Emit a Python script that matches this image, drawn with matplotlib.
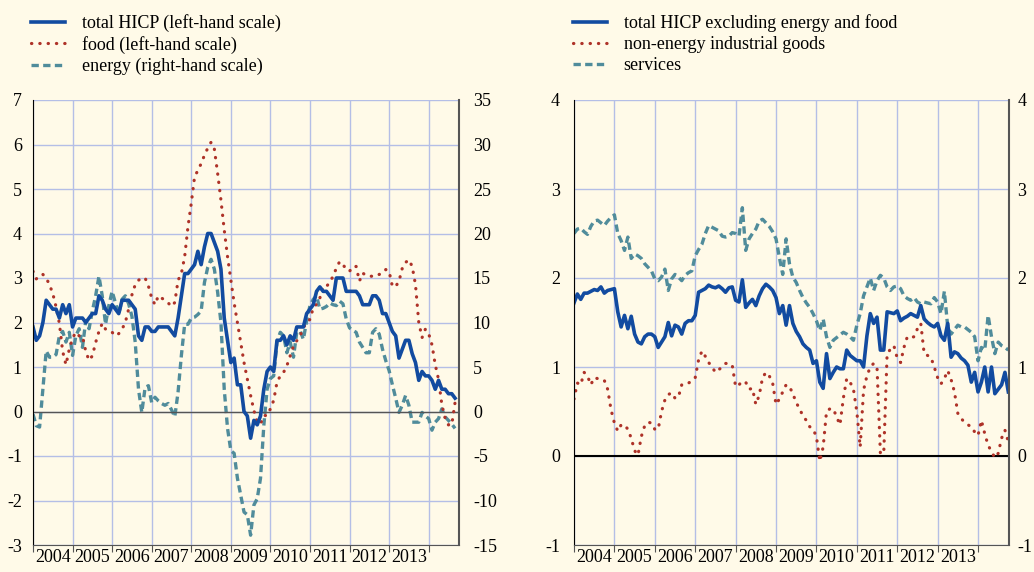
import numpy as np
import matplotlib
matplotlib.use("Agg")
import matplotlib.pyplot as plt

plt.rcParams['font.family'] = ['Liberation Serif', 'DejaVu Serif']
plt.rcParams['axes.unicode_minus'] = False

# monthly annual rates of change, Jan 2004 onwards
total_hicp = [1.9, 1.6, 1.7, 2.0, 2.5, 2.4, 2.3, 2.3, 2.1, 2.4, 2.2, 2.4,
              1.9, 2.1, 2.1, 2.1, 2.0, 2.1, 2.2, 2.2, 2.6, 2.5, 2.3, 2.2,
              2.4, 2.3, 2.2, 2.5, 2.5, 2.5, 2.4, 2.3, 1.7, 1.6, 1.9, 1.9,
              1.8, 1.8, 1.9, 1.9, 1.9, 1.9, 1.8, 1.7, 2.1, 2.6, 3.1, 3.1,
              3.2, 3.3, 3.6, 3.3, 3.7, 4.0, 4.0, 3.8, 3.6, 3.2, 2.1, 1.6,
              1.1, 1.2, 0.6, 0.6, 0.0, -0.1, -0.6, -0.2, -0.3, -0.1, 0.5, 0.9,
              1.0, 0.9, 1.6, 1.6, 1.7, 1.5, 1.7, 1.6, 1.9, 1.9, 1.9, 2.2,
              2.3, 2.4, 2.7, 2.8, 2.7, 2.7, 2.6, 2.5, 3.0, 3.0, 3.0, 2.7,
              2.7, 2.7, 2.7, 2.6, 2.4, 2.4, 2.4, 2.6, 2.6, 2.5, 2.2, 2.2,
              2.0, 1.8, 1.7, 1.2, 1.4, 1.6, 1.6, 1.3, 1.1, 0.7, 0.9, 0.8,
              0.8, 0.7, 0.5, 0.7, 0.5, 0.5, 0.4, 0.4, 0.3]

food = [3.15, 2.98, 3.06, 3.08, 3.00, 2.85, 2.65, 2.35, 1.98, 1.35, 1.05, 1.40,
        1.65, 1.78, 1.70, 1.70, 1.35, 1.15, 1.25, 1.55, 1.80, 1.98, 1.85, 1.80,
        1.78, 1.70, 1.75, 1.85, 2.00, 2.30, 2.62, 2.85, 2.95, 3.00, 3.00, 2.82,
        2.55, 2.40, 2.60, 2.55, 2.50, 2.44, 2.36, 2.45, 2.95, 3.10, 3.48, 4.15,
        4.68, 5.27, 5.42, 5.57, 5.76, 5.92, 6.05, 5.90, 5.35, 4.75, 4.08, 3.48,
        2.96, 2.44, 2.00, 1.55, 1.10, 0.73, 0.36, 0.02, -0.24, -0.28, -0.09, -0.09,
        0.06, 0.25, 0.66, 0.80, 0.88, 1.03, 1.25, 1.47, 1.59, 1.70, 1.88, 2.00,
        2.07, 2.33, 2.41, 2.55, 2.81, 2.81, 2.90, 3.04, 3.22, 3.37, 3.30, 3.20,
        3.15, 3.26, 3.26, 2.93, 3.11, 3.06, 3.04, 3.04, 3.04, 3.08, 3.11, 3.19,
        3.15, 2.81, 2.81, 2.93, 3.22, 3.35, 3.41, 3.26, 2.85, 2.00, 1.66, 1.85,
        1.75, 1.50, 1.05, 0.72, 0.15, -0.15, -0.30, -0.30, 0.20]

energy = [-0.3, -1.6, -1.75, 2.5, 6.8, 6.1, 6.1, 6.4, 8.5, 9.0, 7.8, 8.9,
          6.3, 8.5, 9.3, 7.2, 10.2, 9.3, 11.3, 13.0, 15.2, 13.0, 9.8, 11.9,
          13.5, 12.2, 10.9, 12.6, 13.0, 12.1, 10.7, 7.8, 2.5, -0.1, 2.7, 2.9,
          1.0, 1.6, 1.2, 0.9, 0.7, 0.9, 0.2, -0.6, 2.2, 6.3, 9.8, 9.8,
          10.5, 10.6, 10.9, 11.3, 14.5, 16.2, 17.1, 16.0, 13.4, 10.0, 2.5, -1.9,
          -4.4, -4.7, -7.5, -9.4, -11.3, -11.6, -13.9, -10.5, -9.8, -7.5, -1.6, 2.5,
          3.7, 4.0, 7.8, 8.9, 8.5, 6.6, 7.8, 6.1, 8.9, 9.1, 8.1, 10.2,
          11.9, 12.6, 13.0, 11.5, 11.6, 11.8, 12.2, 12.0, 11.9, 12.4, 12.1, 10.4,
          9.4, 9.1, 8.9, 7.8, 7.2, 6.6, 6.6, 8.9, 9.3, 8.7, 7.0, 5.7,
          4.6, 3.0, 1.5, -0.1, 0.7, 1.8, 0.7, -1.2, -1.2, -1.2, -0.1, -0.5,
          -0.8, -2.1, -1.2, -0.8, 0.3, -0.6, -1.0, -1.4, -1.9]

core = [1.72, 1.82, 1.76, 1.83, 1.83, 1.85, 1.87, 1.86, 1.90, 1.83, 1.86, 1.87,
        1.88, 1.62, 1.45, 1.58, 1.43, 1.57, 1.37, 1.28, 1.26, 1.34, 1.37, 1.37,
        1.34, 1.22, 1.28, 1.34, 1.50, 1.35, 1.47, 1.45, 1.37, 1.49, 1.52, 1.52,
        1.58, 1.84, 1.86, 1.88, 1.92, 1.90, 1.89, 1.91, 1.88, 1.84, 1.89, 1.90,
        1.75, 1.73, 1.98, 1.67, 1.72, 1.76, 1.69, 1.80, 1.88, 1.93, 1.90, 1.86,
        1.78, 1.60, 1.69, 1.47, 1.69, 1.49, 1.40, 1.34, 1.26, 1.22, 1.19, 1.04,
        1.07, 0.83, 0.76, 1.15, 0.87, 0.94, 1.00, 0.98, 0.98, 1.19, 1.13, 1.10,
        1.07, 1.07, 1.00, 1.35, 1.60, 1.49, 1.56, 1.19, 1.19, 1.62, 1.61, 1.60,
        1.63, 1.52, 1.55, 1.57, 1.60, 1.58, 1.56, 1.69, 1.54, 1.50, 1.47, 1.45,
        1.49, 1.35, 1.30, 1.49, 1.11, 1.17, 1.15, 1.10, 1.07, 1.02, 0.83, 0.94,
        0.72, 0.83, 1.00, 0.72, 1.00, 0.70, 0.75, 0.80, 0.94, 0.72]

neig = [0.64, 0.82, 0.80, 0.94, 0.90, 0.80, 0.88, 0.87, 0.86, 0.85, 0.75, 0.52,
        0.37, 0.28, 0.35, 0.35, 0.30, 0.20, 0.06, 0.01, 0.22, 0.34, 0.38, 0.37,
        0.30, 0.30, 0.50, 0.63, 0.69, 0.71, 0.65, 0.66, 0.80, 0.82, 0.82, 0.84,
        0.88, 1.08, 1.18, 1.12, 1.05, 1.00, 0.94, 0.97, 1.00, 1.04, 1.04, 1.02,
        0.78, 0.80, 0.84, 0.83, 0.75, 0.76, 0.58, 0.68, 0.88, 0.94, 0.90, 0.82,
        0.58, 0.64, 0.72, 0.80, 0.78, 0.70, 0.60, 0.53, 0.45, 0.40, 0.33, 0.30,
        0.22, -0.06, 0.10, 0.50, 0.53, 0.53, 0.44, 0.35, 0.65, 0.87, 0.83, 0.75,
        0.50, 0.10, 0.74, 0.90, 1.00, 1.04, 1.00, 0.03, 0.03, 1.15, 1.20, 1.24,
        1.10, 1.05, 1.22, 1.34, 1.33, 1.34, 1.43, 1.49, 1.15, 1.13, 1.11, 1.00,
        0.88, 0.81, 0.87, 0.96, 0.86, 0.72, 0.48, 0.42, 0.38, 0.35, 0.33, 0.27,
        0.23, 0.40, 0.25, 0.12, 0.05, -0.02, 0.03, 0.20, 0.29, 0.16]

services = [2.50, 2.55, 2.56, 2.52, 2.49, 2.58, 2.64, 2.65, 2.62, 2.59, 2.64, 2.68,
            2.71, 2.50, 2.42, 2.31, 2.46, 2.22, 2.27, 2.25, 2.22, 2.16, 2.12, 2.08,
            1.99, 1.97, 2.01, 2.10, 1.86, 1.99, 2.04, 2.01, 1.97, 2.03, 2.06, 2.08,
            2.25, 2.32, 2.38, 2.50, 2.59, 2.57, 2.55, 2.53, 2.47, 2.46, 2.47, 2.51,
            2.50, 2.47, 2.79, 2.31, 2.44, 2.50, 2.55, 2.64, 2.66, 2.62, 2.58, 2.52,
            2.44, 2.23, 2.04, 2.44, 2.16, 2.01, 1.95, 1.86, 1.78, 1.72, 1.67, 1.60,
            1.52, 1.41, 1.54, 1.34, 1.22, 1.30, 1.33, 1.36, 1.39, 1.37, 1.34, 1.30,
            1.47, 1.60, 1.80, 1.90, 2.00, 1.86, 1.97, 2.03, 2.00, 1.90, 1.86, 1.90,
            1.91, 1.88, 1.80, 1.77, 1.75, 1.78, 1.73, 1.71, 1.73, 1.72, 1.71, 1.78,
            1.73, 1.60, 1.85, 1.45, 1.37, 1.42, 1.47, 1.45, 1.45, 1.42, 1.39, 1.34,
            1.07, 1.22, 1.19, 1.58, 1.34, 1.15, 1.28, 1.24, 1.22, 1.19]

years = [str(y) for y in range(2004, 2014)]
year_starts = np.arange(0, 121, 12)
year_mids = np.arange(6, 120, 12)

BG = '#fffae8'
GRID = '#b4bee6'
BLUE = '#124ba0'
RED = '#ae3228'
GREEN = '#508c9b'
FS = 13

solid = dict(color=BLUE, lw=2.6, solid_joinstyle='round')
dotted = dict(color=RED, lw=2.3, linestyle=(0, (0.1, 2.5)), dash_capstyle='round')
dashed = dict(color=GREEN, lw=2.4, linestyle=(0, (2.2, 1.3)))
leg_kw = dict(loc='upper left', frameon=False, fontsize=FS, handlelength=1.9,
              handletextpad=0.9, labelspacing=0.22, borderaxespad=0, borderpad=0)


def style_x(ax):
    ax.set_xlim(0, 129.2)
    ax.set_xticks(year_starts)
    ax.set_xticks(year_mids, minor=True)
    ax.set_xticklabels(years, minor=True)
    ax.tick_params(axis='x', which='major', length=5, direction='out',
                   color='#555555', labelbottom=False)
    ax.tick_params(axis='x', which='minor', length=0, pad=3, labelsize=FS)


fig = plt.figure(figsize=(10.34, 5.72), dpi=100, facecolor=BG)

# left panel
ax1 = fig.add_axes([33 / 1034, 27 / 572, 426 / 1034, 445 / 572])
ax1e = ax1.twinx()
ax1e.set_zorder(1)
ax1.set_zorder(2)
ax1.patch.set_visible(False)

m = np.arange(len(total_hicp))
l_en, = ax1e.plot(m, energy, **dashed)
ax1.axhline(0, color='#555555', lw=1.0, zorder=1)
l_food, = ax1.plot(m, food, **dotted)
l_tot, = ax1.plot(m, total_hicp, **solid)

ax1.set_ylim(-3, 7)
ax1.set_yticks(range(-3, 8))
ax1e.set_ylim(-15, 35)
ax1e.set_yticks(range(-15, 36, 5))
style_x(ax1)
ax1e.xaxis.set_visible(True)
ax1e.tick_params(axis='x', which='both', length=0, labelbottom=False)
ax1e.grid(True, which='major', color=GRID, lw=1.0)
ax1.tick_params(axis='y', length=0, pad=8, labelsize=FS)
ax1e.tick_params(axis='y', length=0, pad=10, labelsize=FS)
for s in ['top', 'right']:
    ax1.spines[s].set_visible(False)
for s in ['top', 'left', 'bottom']:
    ax1e.spines[s].set_visible(False)
ax1.spines['left'].set_color('black')
ax1.spines['bottom'].set_color('#555555')
ax1e.spines['right'].set_color('#555555')
ax1e.spines['right'].set_linewidth(1.5)

fig.legend([l_tot, l_food, l_en],
           ['total HICP (left-hand scale)', 'food (left-hand scale)',
            'energy (right-hand scale)'],
           bbox_to_anchor=(31 / 1034, 1 - 14 / 572), **leg_kw)

# right panel
ax3 = fig.add_axes([574 / 1034, 27 / 572, 435 / 1034, 445 / 572], facecolor=BG)
n = np.arange(len(core))
ax3.set_axisbelow(True)
ax3.grid(True, color=GRID, lw=1.0)
ax3.axhline(0, color='black', lw=1.5, zorder=1)
r_serv, = ax3.plot(n, services, **dashed)
r_neig, = ax3.plot(n, neig, **dotted)
r_core, = ax3.plot(n, core, **solid)
ax3.set_ylim(-1, 4)
ax3.set_yticks(range(-1, 5))
style_x(ax3)
ax3.tick_params(axis='y', length=0, pad=10, labelsize=FS)
ax3.spines['top'].set_visible(False)
ax3.spines['right'].set_visible(False)
ax3.spines['left'].set_color('black')
ax3.spines['bottom'].set_color('#555555')

# same scale repeated on the right
ax3r = ax3.twinx()
ax3r.set_ylim(ax3.get_ylim())
ax3r.set_yticks(range(-1, 5))
ax3r.tick_params(axis='y', length=0, pad=6, labelsize=FS)
for s in ['top', 'left', 'bottom']:
    ax3r.spines[s].set_visible(False)
ax3r.spines['right'].set_color('#555555')
ax3r.spines['right'].set_linewidth(1.5)

fig.legend([r_core, r_neig, r_serv],
           ['total HICP excluding energy and food',
            'non-energy industrial goods', 'services'],
           bbox_to_anchor=(573 / 1034, 1 - 14 / 572), **leg_kw)

fig.savefig('out.png', dpi=100, facecolor=BG)
